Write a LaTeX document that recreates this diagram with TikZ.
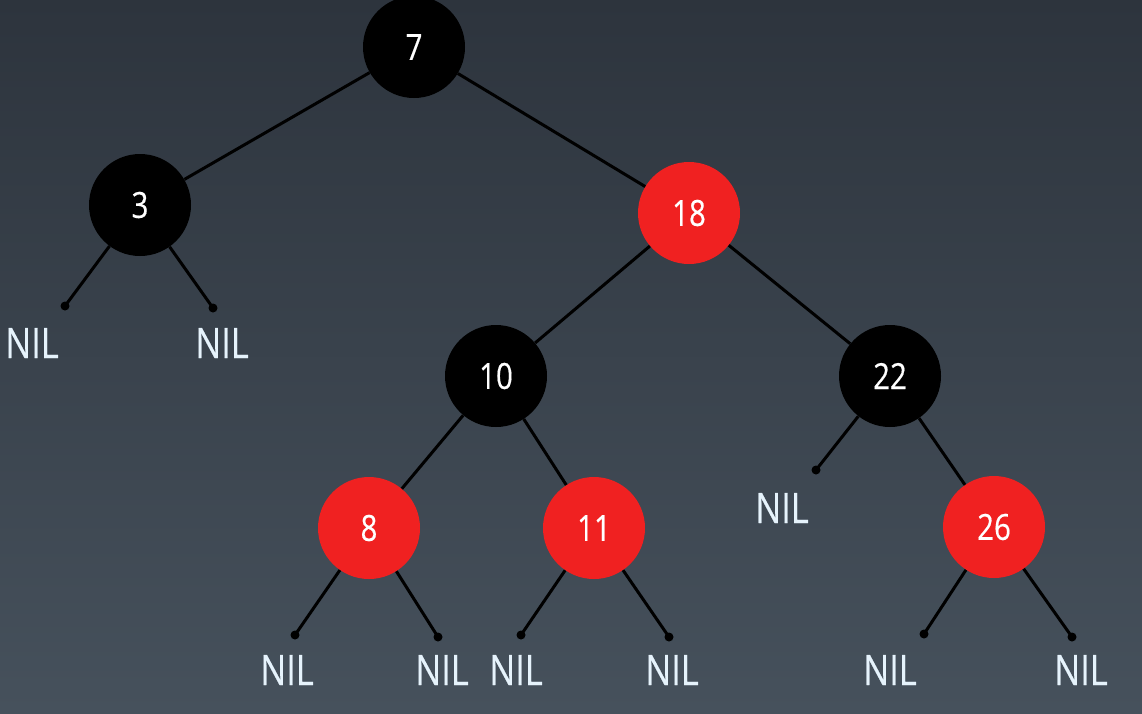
\documentclass[tikz,border=0pt]{standalone}
\usepackage{fontspec}
\setmainfont{Open Sans}[FakeStretch=0.82,FakeBold=0.4]
\definecolor{bgtop}{HTML}{2D343D}
\definecolor{bgbot}{HTML}{46515C}
\definecolor{rbred}{HTML}{F02121}
\definecolor{niltext}{HTML}{E6F3FC}
\begin{document}
\begin{tikzpicture}[x=1pt,y=-1pt,
  rbnode/.style={circle,minimum size=102pt,inner sep=0pt,text=white,
    font=\fontsize{36}{36}\selectfont},
  blacknode/.style={rbnode,fill=black},
  rednode/.style={rbnode,fill=rbred},
  leafdot/.style={circle,fill=black,minimum size=9pt,inner sep=0pt},
  niltag/.style={text=niltext,inner sep=0pt,font=\fontsize{42}{42}\selectfont},
  edge/.style={draw=black,line width=3pt}]
  % background
  \shade[top color=bgtop,bottom color=bgbot] (0,0) rectangle (1142,713);
  \useasboundingbox (0,0) rectangle (1142,713);

  % tree nodes
  \node[blacknode] (n7)  at (414,47)  {7};
  \node[blacknode] (n3)  at (140,205) {3};
  \node[rednode]   (n18) at (689,213) {18};
  \node[blacknode] (n10) at (496,376) {10};
  \node[blacknode] (n22) at (890,376) {22};
  \node[rednode]   (n8)  at (369,528) {8};
  \node[rednode]   (n11) at (594,528) {11};
  \node[rednode]   (n26) at (994,527) {26};

  % NIL leaf anchors
  \node[leafdot] (d3l)  at (65,306)   {};
  \node[leafdot] (d3r)  at (213,308)  {};
  \node[leafdot] (d22l) at (816,470)  {};
  \node[leafdot] (d8l)  at (295,635)  {};
  \node[leafdot] (d8r)  at (438,637)  {};
  \node[leafdot] (d11l) at (521,635)  {};
  \node[leafdot] (d11r) at (669,637)  {};
  \node[leafdot] (d26l) at (924,634)  {};
  \node[leafdot] (d26r) at (1072,637) {};

  % NIL labels
  \node[niltag] (t3l)  at (32,343)   {NIL};
  \node[niltag] (t3r)  at (222,343)  {NIL};
  \node[niltag] (t22l) at (782,508)  {NIL};
  \node[niltag] (t8l)  at (287,670)  {NIL};
  \node[niltag] (t8r)  at (442,670)  {NIL};
  \node[niltag] (t11l) at (516,670)  {NIL};
  \node[niltag] (t11r) at (672,670)  {NIL};
  \node[niltag] (t26l) at (890,670)  {NIL};
  \node[niltag] (t26r) at (1081,670) {NIL};

  % edges
  \path[edge] (n7) -- (n3);
  \path[edge] (n7) -- (n18);
  \path[edge] (n18) -- (n10);
  \path[edge] (n18) -- (n22);
  \path[edge] (n10) -- (n8);
  \path[edge] (n10) -- (n11);
  \path[edge] (n22) -- (n26);
  \path[edge] (n3) -- (d3l.center);
  \path[edge] (n3) -- (d3r.center);
  \path[edge] (n22) -- (d22l.center);
  \path[edge] (n8) -- (d8l.center);
  \path[edge] (n8) -- (d8r.center);
  \path[edge] (n11) -- (d11l.center);
  \path[edge] (n11) -- (d11r.center);
  \path[edge] (n26) -- (d26l.center);
  \path[edge] (n26) -- (d26r.center);
\end{tikzpicture}
\end{document}
